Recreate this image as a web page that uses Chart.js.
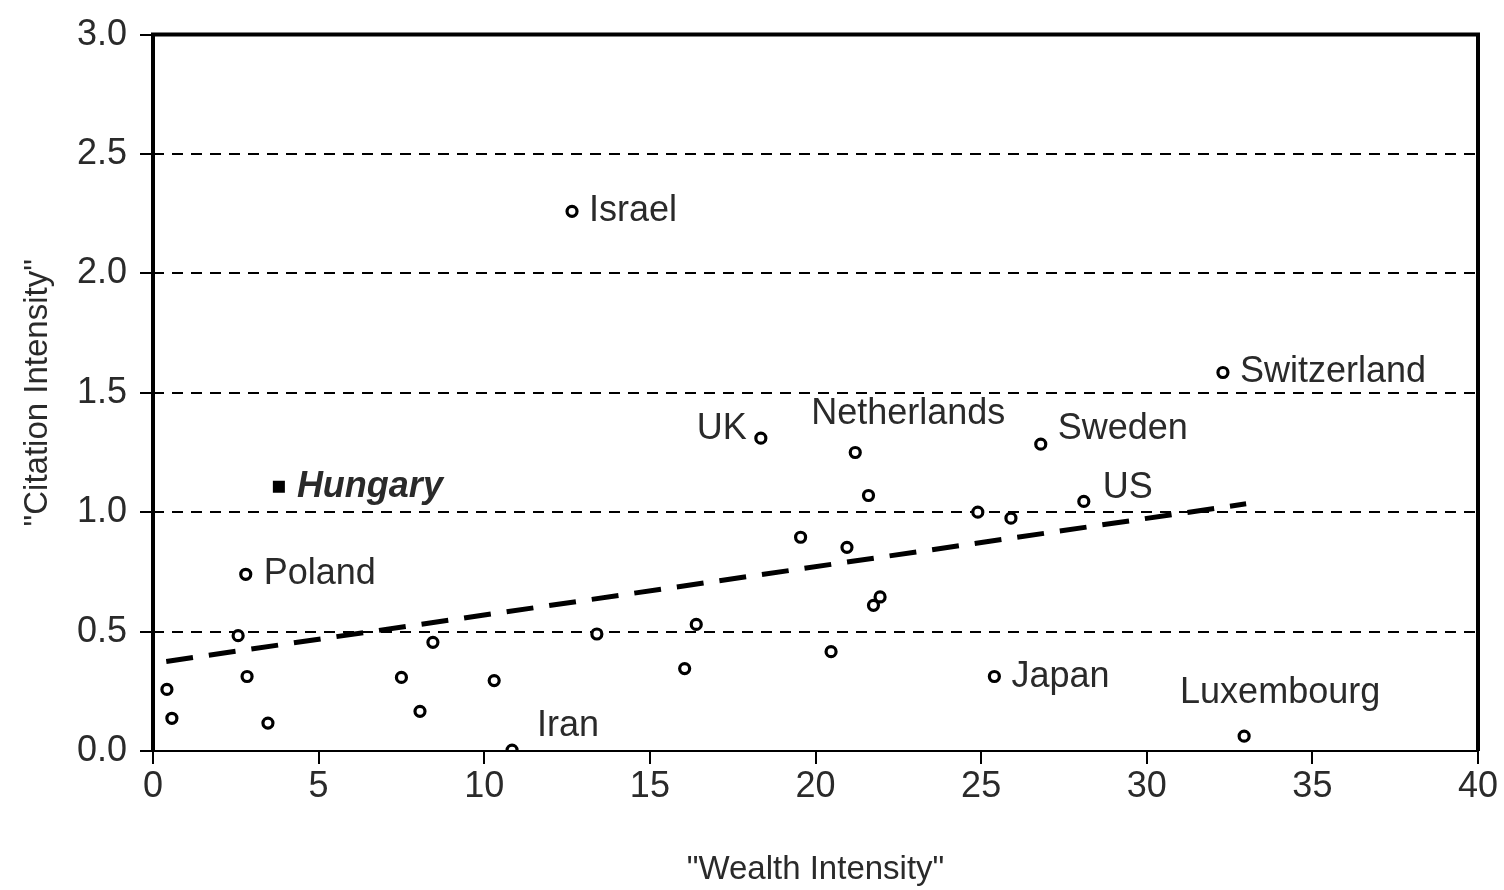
<!DOCTYPE html>
<html>
<head>
<meta charset="utf-8">
<script src="https://cdn.jsdelivr.net/npm/chart.js@4.4.1/dist/chart.umd.min.js"></script>
<style>
  html, body { margin: 0; padding: 0; background: #fff; }
  #wrap { width: 1504px; height: 890px; }
</style>
</head>
<body>
<div id="wrap"><canvas id="scatter" width="1504" height="890"></canvas></div>
<script>
// country data ("Wealth Intensity", "Citation Intensity"), label '' = unnamed
const countryNames = ["Israel", "Switzerland", "UK", "Netherlands", "Sweden", "", "US", "", "", "", "",
  "Poland", "", "", "", "", "", "", "", "", "", "", "", "Japan", "", "", "", "", "Iran", "Luxembourg"];
const wealthX = [12.65, 32.3, 18.35, 21.2, 26.8, 21.6, 28.1, 24.9, 25.9, 19.55, 20.95,
  2.8, 21.75, 21.95, 16.4, 13.4, 2.57, 8.45, 16.05, 20.47, 7.5, 10.3, 2.84, 25.4, 0.42, 0.57, 3.47, 8.06, 10.84, 32.94];
const citationY = [2.26, 1.585, 1.31, 1.25, 1.285, 1.07, 1.045, 1.0, 0.975, 0.895, 0.853,
  0.74, 0.61, 0.645, 0.53, 0.49, 0.483, 0.455, 0.345, 0.416, 0.308, 0.295, 0.312, 0.312, 0.258, 0.137, 0.117, 0.166, 0.004, 0.062];

const hungaryX = [3.8];
const hungaryY = [1.107];

// trend line end points
const trendX = [0.4, 33.0];
const trendY = [0.375, 1.035];

const xTicks = [0, 5, 10, 15, 20, 25, 30, 35, 40];
const yTicks = [0, 0.5, 1.0, 1.5, 2.0, 2.5, 3.0];

const FONT = "'Liberation Sans', Arial, sans-serif";
const TXT = "#2a2a2a";

// label placement relative to the marker (px)
const labelPos = {
  Israel: [17, 0, "left"], Switzerland: [17, 0, "left"], UK: [-14, -9, "right"],
  Netherlands: [53, -38, "center"], Sweden: [17, -15, "left"], US: [19, -13, "left"],
  Poland: [18, 0, "left"], Japan: [17, 1, "left"], Iran: [25, -24, "left"],
  Luxembourg: [36, -43, "center"], Hungary: [18, 0, "left"]
};

const countryPts = wealthX.map((x, i) => ({ x: x, y: citationY[i], name: countryNames[i] }));
const hungaryPts = hungaryX.map((x, i) => ({ x: x, y: hungaryY[i], name: "Hungary" }));
const trendPts = trendX.map((x, i) => ({ x: x, y: trendY[i] }));

const labelPlugin = {
  id: "countryLabels",
  afterDatasetsDraw(chart) {
    const ctx = chart.ctx;
    ctx.save();
    ctx.fillStyle = TXT;
    ctx.textBaseline = "middle";
    [0, 1].forEach(di => {
      const meta = chart.getDatasetMeta(di);
      const pts = chart.data.datasets[di].data;
      meta.data.forEach((el, i) => {
        const name = pts[i].name;
        if (!name) return;
        const p = labelPos[name];
        ctx.font = (name === "Hungary" ? "italic bold " : "") + "36px " + FONT;
        ctx.textAlign = p[2];
        ctx.fillText(name, el.x + p[0], el.y + p[1]);
      });
    });
    ctx.restore();
  }
};

const framePlugin = {
  id: "frame",
  afterDraw(chart) {
    const a = chart.chartArea;
    const ctx = chart.ctx;
    ctx.save();
    ctx.strokeStyle = "#000";
    ctx.lineWidth = 2;
    ctx.beginPath();
    ctx.moveTo(a.left, a.bottom);
    ctx.lineTo(a.right, a.bottom);
    ctx.stroke();
    ctx.lineWidth = 4;
    ctx.beginPath();
    ctx.moveTo(a.left, a.bottom);
    ctx.lineTo(a.left, a.top);
    ctx.lineTo(a.right, a.top);
    ctx.lineTo(a.right, a.bottom);
    ctx.stroke();
    ctx.restore();
  }
};

new Chart(document.getElementById("scatter"), {
  type: "scatter",
  data: {
    datasets: [
      {
        data: countryPts,
        pointStyle: "circle",
        pointRadius: 5,
        pointBorderWidth: 3.2,
        pointBorderColor: "#000",
        pointBackgroundColor: "#fff"
      },
      {
        data: hungaryPts,
        pointStyle: "rect",
        pointRadius: 8.5,
        pointBorderWidth: 0,
        pointBackgroundColor: "#000"
      },
      {
        type: "line",
        data: trendPts,
        borderColor: "#000",
        borderWidth: 5,
        borderDash: [27, 16],
        pointRadius: 0,
        fill: false
      }
    ]
  },
  options: {
    responsive: false,
    animation: false,
    layout: { padding: { top: 30, right: 26, left: 0, bottom: 0 } },
    plugins: {
      legend: { display: false },
      tooltip: { enabled: false }
    },
    scales: {
      x: {
        type: "linear",
        min: 0,
        max: 40,
        afterBuildTicks: s => { s.ticks = xTicks.map(v => ({ value: v })); },
        afterFit: s => { s.height = 139; },
        grid: { drawOnChartArea: false, drawTicks: true, tickLength: 13, color: "#000", lineWidth: 2 },
        border: { display: false },
        ticks: { color: TXT, font: { family: FONT, size: 36 }, padding: 1, maxRotation: 0 },
        title: { display: true, text: "\"Wealth Intensity\"", color: TXT, font: { family: FONT, size: 33 }, padding: { top: 0, bottom: 0 } }
      },
      y: {
        type: "linear",
        min: 0,
        max: 3,
        afterBuildTicks: s => { s.ticks = yTicks.map(v => ({ value: v })); },
        afterFit: s => { s.width = 153; },
        grid: {
          drawTicks: true,
          tickLength: 13,
          tickColor: "#000",
          tickWidth: 2,
          tickBorderDash: [],
          lineWidth: 2,
          color: c => (c.tick && (c.tick.value === 0 || c.tick.value === 3)) ? "rgba(0,0,0,0)" : "#000"
        },
        border: { display: false, dash: [11, 8] },
        ticks: { color: TXT, font: { family: FONT, size: 36 }, padding: 13, callback: v => v.toFixed(1) },
        title: { display: true, text: "\"Citation Intensity\"", color: TXT, font: { family: FONT, size: 33 }, padding: { top: 18, bottom: 0 } }
      }
    }
  },
  plugins: [labelPlugin, framePlugin]
});
</script>
</body>
</html>
